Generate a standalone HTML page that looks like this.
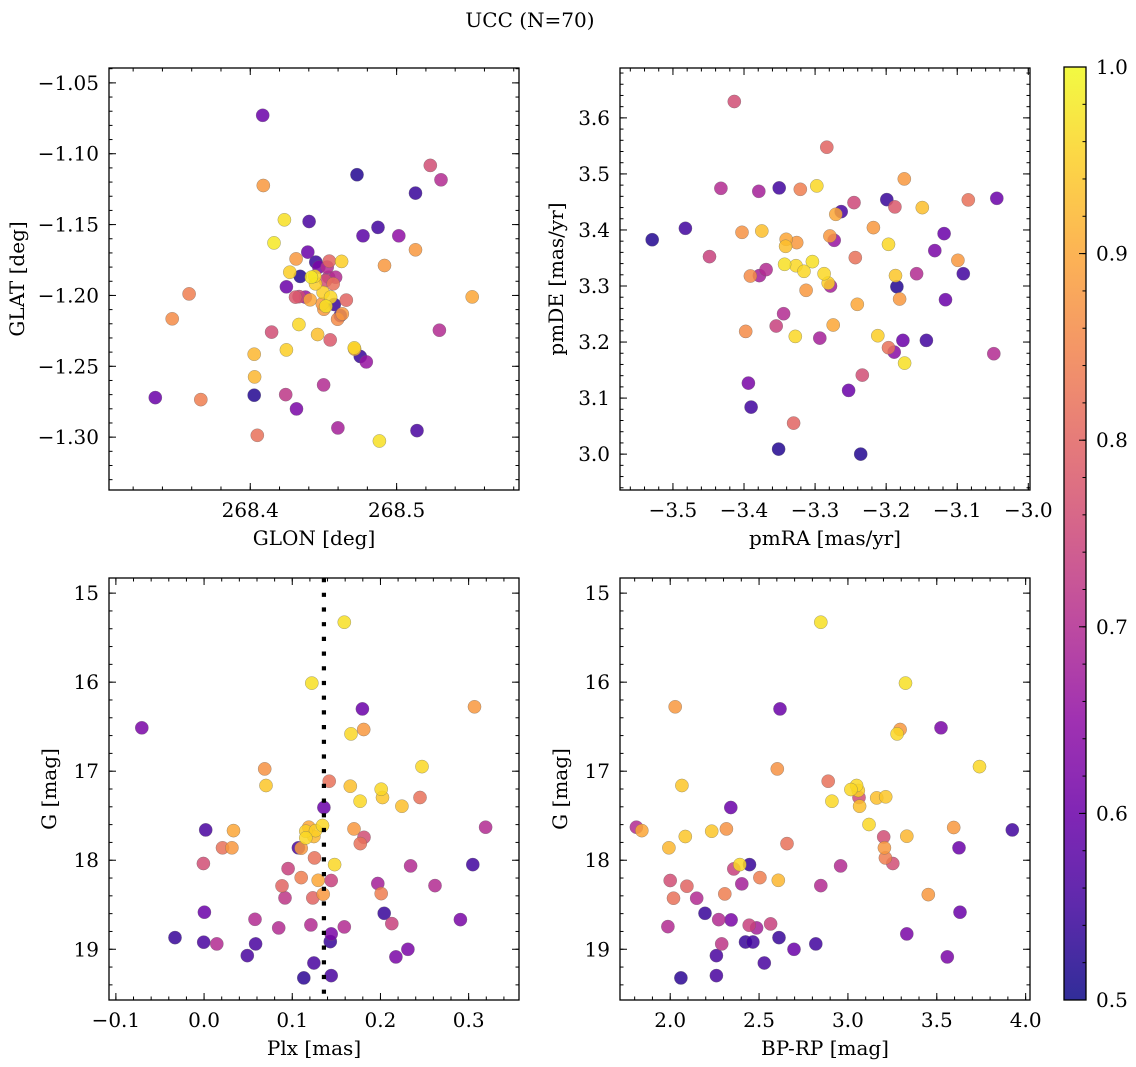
<!DOCTYPE html>
<html><head><meta charset="utf-8">
<style>
html,body{margin:0;padding:0;background:#fff;}
svg{display:block;font-family:"DejaVu Serif","Liberation Serif",serif;}
</style></head>
<body>
<svg id="fig" width="1136" height="1067" viewBox="0 0 1136 1067" xmlns="http://www.w3.org/2000/svg">
<text x="530" y="27" font-size="20" text-anchor="middle">UCC (N=70)</text>
</svg>
<script>
const p1Glon=[268.4085,268.4089,268.4729,268.5230,268.5303,268.5129,268.4233,268.4402,268.4873,268.4770,
268.5015,268.5129,268.4162,268.4393,268.4313,268.4448,268.4540,268.4624,268.4917,268.4270,
268.4341,268.4418,268.4441,268.4535,268.4567,268.4247,268.3582,268.4334,268.4377,268.4409,
268.4498,268.4549,268.4656,268.4574,268.4503,268.4517,268.5516,268.3467,268.4615,268.4597,
268.4332,268.4146,268.4460,268.4546,268.5292,268.4027,268.4247,268.4713,268.4752,268.4711,
268.4793,268.4030,268.4501,268.3351,268.3662,268.4027,268.4242,268.4316,268.4599,268.5139,
268.4048,268.4882,268.4526,268.4492,268.4446,268.4583,268.4309,268.4629,268.4514,268.4469];
const p1Glat=[-1.0729,-1.1224,-1.1148,-1.1082,-1.1184,-1.1278,-1.1466,-1.1478,-1.1520,-1.1579,
-1.1579,-1.1678,-1.1629,-1.1694,-1.1742,-1.1765,-1.1758,-1.1760,-1.1789,-1.1836,
-1.1866,-1.1871,-1.1864,-1.1871,-1.1918,-1.1939,-1.1989,-1.2008,-1.2012,-1.2031,
-1.1979,-1.2012,-1.2033,-1.2064,-1.2097,-1.2076,-1.2010,-1.2165,-1.2142,-1.2168,
-1.2205,-1.2259,-1.2276,-1.2314,-1.2245,-1.2415,-1.2384,-1.2379,-1.2431,-1.2370,
-1.2469,-1.2575,-1.2631,-1.2721,-1.2735,-1.2704,-1.2700,-1.2801,-1.2935,-1.2954,
-1.2987,-1.3027,-1.1800,-1.2059,-1.1918,-1.1871,-1.2012,-1.2130,-1.1895,-1.1800];
const p1Prob=[0.60,0.88,0.52,0.76,0.70,0.54,0.97,0.56,0.55,0.58,
0.65,0.88,0.98,0.60,0.88,0.54,0.80,0.95,0.88,0.95,
0.52,0.98,0.96,0.70,0.82,0.60,0.84,0.75,0.66,0.90,
0.95,0.96,0.80,0.54,0.88,0.97,0.90,0.86,0.55,0.86,
0.96,0.76,0.93,0.78,0.70,0.92,0.95,0.90,0.54,0.96,
0.66,0.92,0.70,0.60,0.84,0.52,0.72,0.62,0.68,0.56,
0.82,0.97,0.70,0.88,0.95,0.70,0.78,0.88,0.76,0.62];

const p2PmRA=[-3.4137,-3.2835,-3.1745,-3.4325,-3.3792,-3.3505,-3.3208,-3.2976,-3.0844,-3.0443,
-3.1991,-3.1877,-3.1491,-3.2453,-3.2632,-3.2708,-3.5292,-3.4825,-3.4028,-3.3750,
-3.3406,-3.3259,-3.3415,-3.2792,-3.2731,-3.2179,-3.1967,-3.1184,-3.1316,-3.0991,
-3.4486,-3.2434,-3.3429,-3.3269,-3.3038,-3.3156,-3.3689,-3.3783,-3.3910,-3.2873,
-3.2783,-3.2816,-3.3127,-3.1868,-3.1849,-3.1571,-3.0915,-3.1811,-3.2406,-3.1165,
-3.3443,-3.3547,-3.3976,-3.3278,-3.2934,-3.2745,-3.2118,-3.1967,-3.1887,-3.1764,
-3.1741,-3.1434,-3.0486,-3.3939,-3.2335,-3.2528,-3.3901,-3.3302,-3.3514,-3.2358];
const p2PmDE=[3.6292,3.5476,3.4911,3.4744,3.4690,3.4750,3.4726,3.4786,3.4536,3.4565,
3.4542,3.4411,3.4399,3.4488,3.4327,3.4280,3.3827,3.4030,3.3958,3.3982,
3.3833,3.3774,3.3708,3.3893,3.3815,3.4042,3.3744,3.3935,3.3631,3.3458,
3.3524,3.3506,3.3387,3.3363,3.3435,3.3262,3.3292,3.3185,3.3179,3.3220,
3.3000,3.3054,3.2923,3.3185,3.2988,3.3220,3.3220,3.2768,3.2673,3.2756,
3.2506,3.2286,3.2190,3.2101,3.2071,3.2304,3.2113,3.1899,3.1821,3.2030,
3.1625,3.2030,3.1792,3.1268,3.1411,3.1137,3.0839,3.0554,3.0089,3.0000];
const p2Prob=[0.76,0.80,0.88,0.70,0.68,0.55,0.84,0.96,0.82,0.60,
0.54,0.78,0.93,0.75,0.56,0.90,0.52,0.55,0.87,0.93,
0.90,0.88,0.93,0.88,0.66,0.88,0.96,0.60,0.62,0.88,
0.74,0.82,0.97,0.96,0.97,0.96,0.70,0.68,0.86,0.96,
0.68,0.95,0.88,0.94,0.52,0.70,0.55,0.88,0.90,0.60,
0.70,0.74,0.86,0.96,0.68,0.90,0.95,0.82,0.64,0.60,
0.97,0.55,0.70,0.62,0.76,0.60,0.55,0.80,0.52,0.52];

const p3Plx=[0.1590,0.1222,0.1795,0.3066,-0.0706,0.1666,0.1810,0.0687,0.0702,0.2471,
0.1419,0.1658,0.2008,0.2023,0.1769,0.2243,0.2448,0.3192,0.1359,0.0019,
0.0334,0.0209,0.0315,0.1343,0.1188,0.1154,0.1245,0.1154,0.1070,0.1101,
0.1700,0.1814,0.1772,0.1252,0.1480,-0.0008,0.0953,0.1101,0.0884,0.0918,
0.1233,0.1294,0.1442,0.1351,0.1970,0.2008,0.2342,0.2619,0.3047,0.0004,
0.0577,0.0846,0.1211,0.1590,0.2042,0.2129,0.2907,-0.0330,-0.0004,0.0144,
0.0584,0.0490,0.1442,0.1431,0.2311,0.2175,0.1245,0.1131,0.1442,0.1264];
const p3G=[15.326,16.011,16.300,16.277,16.513,16.581,16.532,16.974,17.161,16.948,
17.112,17.169,17.202,17.296,17.337,17.393,17.296,17.629,17.408,17.659,
17.667,17.861,17.861,17.610,17.629,17.674,17.734,17.749,17.861,17.865,
17.648,17.742,17.813,17.974,18.049,18.037,18.094,18.195,18.288,18.423,
18.423,18.225,18.228,18.382,18.262,18.375,18.064,18.285,18.049,18.584,
18.663,18.760,18.727,18.749,18.596,18.712,18.667,18.869,18.921,18.940,
18.940,19.071,18.828,18.914,19.000,19.086,19.154,19.322,19.296,17.667];
const p3Prob=[0.97,0.97,0.60,0.88,0.62,0.96,0.88,0.87,0.94,0.96,
0.82,0.93,0.96,0.94,0.96,0.93,0.82,0.70,0.60,0.56,
0.90,0.82,0.88,0.96,0.90,0.95,0.92,0.96,0.56,0.88,
0.88,0.76,0.82,0.82,0.96,0.76,0.74,0.84,0.80,0.72,
0.80,0.90,0.74,0.88,0.68,0.84,0.70,0.70,0.55,0.60,
0.70,0.70,0.70,0.70,0.54,0.74,0.62,0.54,0.56,0.70,
0.56,0.56,0.62,0.54,0.62,0.62,0.56,0.53,0.56,0.95];

const p4BpRp=[2.8475,3.3239,2.6177,2.0282,3.5235,3.2768,3.2938,2.6026,2.0659,3.7401,
2.8889,3.0490,3.0169,3.0621,3.0659,2.9096,3.1620,3.2128,2.3409,1.8098,
1.8399,2.0847,2.2335,2.3164,1.9925,3.1186,3.2015,3.2053,3.2109,3.2524,
3.3315,3.5951,3.9247,3.6252,2.6573,2.3917,2.4463,2.3578,2.9586,2.0000,
2.0942,2.4030,2.5047,2.6083,2.8475,2.3070,2.0188,2.1488,3.4520,2.1959,
2.2731,2.3427,2.4444,2.4859,2.5650,1.9868,3.6309,3.3315,2.2900,2.4237,
2.4652,2.6121,2.6968,2.8192,2.2599,3.5593,2.5292,2.0603,2.2599,3.0584];
const p4G=[15.326,16.011,16.300,16.277,16.513,16.581,16.532,16.974,17.161,16.948,
17.112,17.161,17.206,17.296,17.393,17.337,17.300,17.288,17.408,17.629,
17.667,17.734,17.674,17.648,17.861,17.599,17.738,17.861,17.974,18.037,
17.730,17.633,17.659,17.861,17.813,18.049,18.049,18.097,18.064,18.228,
18.292,18.266,18.195,18.225,18.285,18.378,18.427,18.427,18.386,18.596,
18.667,18.670,18.730,18.760,18.715,18.745,18.584,18.828,18.940,18.918,
18.918,18.869,19.000,18.940,19.071,19.086,19.154,19.322,19.296,17.217];
const p4Prob=[0.97,0.97,0.60,0.88,0.62,0.96,0.88,0.87,0.94,0.96,
0.82,0.96,0.96,0.76,0.93,0.96,0.93,0.94,0.60,0.70,
0.90,0.94,0.94,0.87,0.92,0.96,0.76,0.88,0.84,0.76,
0.92,0.88,0.55,0.60,0.82,0.96,0.54,0.74,0.70,0.76,
0.80,0.68,0.84,0.92,0.70,0.84,0.82,0.70,0.88,0.54,
0.70,0.62,0.74,0.68,0.74,0.70,0.60,0.62,0.72,0.54,
0.55,0.54,0.60,0.55,0.56,0.62,0.56,0.53,0.56,0.95];

const plxLine=[0.1359];
const cbarTicks=[0.5,0.6,0.7,0.8,0.9,1.0];

const NS="http://www.w3.org/2000/svg";
const svg=document.getElementById('fig');
function el(tag,attrs,parent){const e=document.createElementNS(NS,tag);for(const k in attrs)e.setAttribute(k,attrs[k]);(parent||svg).appendChild(e);return e;}

const PL=[[13,8,135],[65,4,157],[106,0,168],[143,13,164],[177,42,144],[204,71,120],[225,100,98],[242,132,75],[252,166,54],[252,206,37],[240,249,33]];
function plasma(t){t=Math.max(0,Math.min(1,t));const f=t*10;const i=Math.min(9,Math.floor(f));const u=f-i;const a=PL[i],b=PL[i+1];
return 'rgb('+[0,1,2].map(k=>Math.round(a[k]+(b[k]-a[k])*u)).join(',')+')';}
function probColor(p){return plasma((p-0.5)/0.5);}

function scale(d0,d1,r0,r1){return v=>r0+(v-d0)/(d1-d0)*(r1-r0);}
function fmt(v,dec){let s=Math.abs(v).toFixed(dec);return (v<-1e-9?'\u2212':'')+s;}
const FS=20;

function panel(cfg){
  const g=el('g',{});
  
  
  const sx=scale(cfg.xlim[0],cfg.xlim[1],cfg.box[0],cfg.box[2]);
  const sy=scale(cfg.ylim[0],cfg.ylim[1],cfg.box[3],cfg.box[1]);
  const [L,T,R,B]=cfg.box;
  const idx=cfg.p.map((_,i)=>i).sort((a,b)=>cfg.p[a]-cfg.p[b]);
  const pg=el('g',{},g);
  
  
  for(const i of idx){
    const c=el('circle',{cx:sx(cfg.x[i]).toFixed(1),cy:sy(cfg.y[i]).toFixed(1),r:6.6,fill:probColor(cfg.p[i]),'fill-opacity':0.85,stroke:'#666','stroke-width':0.5,'stroke-opacity':0.6},pg);
    
    
  }
  if(cfg.vline){for(const v of cfg.vline){const ln=el('line',{x1:sx(v),x2:sx(v),y1:T,y2:B,stroke:'#000','stroke-width':4.2,'stroke-dasharray':'4.2 10.5'},g);
    
    }}
  const tg=el('g',{stroke:'#000','stroke-width':1},g);
  function ticksX(step,len,labels,dec){const s0=Math.ceil((cfg.xlim[0]-1e-9)/step);const s1=Math.floor((cfg.xlim[1]+1e-9)/step);
    for(let k=s0;k<=s1;k++){const v=k*step;const x=sx(v);if(x<L+0.5||x>R-0.5)continue;
      el('line',{x1:x,x2:x,y1:B,y2:B-len},tg);el('line',{x1:x,x2:x,y1:T,y2:T+len},tg);
      if(labels){const t=el('text',{x:x,y:B+27,'font-size':FS,'text-anchor':'middle',stroke:'none',fill:'#000'},g);t.textContent=fmt(v,dec);
        
        }}}
  function ticksY(step,len,labels,dec){const s0=Math.ceil((Math.min(...cfg.ylim)-1e-9)/step);const s1=Math.floor((Math.max(...cfg.ylim)+1e-9)/step);
    for(let k=s0;k<=s1;k++){const v=k*step;const y=sy(v);if(y<T+0.5||y>B-0.5)continue;
      el('line',{x1:L,x2:L+len,y1:y,y2:y},tg);el('line',{x1:R,x2:R-len,y1:y,y2:y},tg);
      if(labels){const t=el('text',{x:L-10,y:y+7,'font-size':FS,'text-anchor':'end',stroke:'none',fill:'#000'},g);t.textContent=fmt(v,dec);
        
        }}}
  ticksX(cfg.xmin,3.5,false);ticksX(cfg.xmaj,7,true,cfg.xdec);
  ticksY(cfg.ymin,3.5,false);ticksY(cfg.ymaj,7,true,cfg.ydec);
  const fr=el('rect',{x:L,y:T,width:R-L,height:B-T,fill:'none',stroke:'#000','stroke-width':1.3},g);
  
  
  const xl=el('text',{x:(L+R)/2,y:B+55,'font-size':FS,'text-anchor':'middle'},g);xl.textContent=cfg.xlabel;
  
  
  const yl=el('text',{x:0,y:0,'font-size':FS,'text-anchor':'middle',transform:'translate('+cfg.ylx+','+((T+B)/2)+') rotate(-90)'},g);yl.textContent=cfg.ylabel;
  
  
}

panel({name:'glon-glat-panel',box:[109,68,519,490],xlim:[268.3035,268.5836],ylim:[-1.3373,-1.0395],x:p1Glon,y:p1Glat,p:p1Prob,
  xmaj:0.1,xmin:0.02,ymaj:0.05,ymin:0.01,xdec:1,ydec:2,xlabel:'GLON [deg]',ylabel:'GLAT [deg]',ylx:24});
panel({name:'proper-motion-panel',box:[620,68,1030,490],xlim:[-3.5745,-2.9976],ylim:[2.936,3.689],x:p2PmRA,y:p2PmDE,p:p2Prob,
  xmaj:0.1,xmin:0.02,ymaj:0.1,ymin:0.02,xdec:1,ydec:1,xlabel:'pmRA [mas/yr]',ylabel:'pmDE [mas/yr]',ylx:563});
panel({name:'plx-g-panel',box:[109,578,519,1000],xlim:[-0.1078,0.3571],ylim:[19.57,14.83],x:p3Plx,y:p3G,p:p3Prob,vline:plxLine,
  xmaj:0.1,xmin:0.02,ymaj:1,ymin:0.2,xdec:1,ydec:0,xlabel:'Plx [mas]',ylabel:'G [mag]',ylx:56});
panel({name:'color-magnitude-panel',box:[620,578,1030,1000],xlim:[1.7175,4.0245],ylim:[19.57,14.83],x:p4BpRp,y:p4G,p:p4Prob,
  xmaj:0.5,xmin:0.1,ymaj:1,ymin:0.2,xdec:1,ydec:0,xlabel:'BP-RP [mag]',ylabel:'G [mag]',ylx:567});

(function(){
  const L=1064,R=1086,T=67,B=1000;
  const g=el('g',{});
  
  
  const defs=el('defs',{},g);
  const lg=el('linearGradient',{id:'cb',x1:0,y1:1,x2:0,y2:0},defs);
  for(let i=0;i<=20;i++){el('stop',{offset:(i/20),'stop-color':plasma(i/20),'stop-opacity':0.85},lg);}
  el('rect',{x:L,y:T,width:R-L,height:B-T,fill:'url(#cb)',stroke:'#000','stroke-width':1.3},g);
  const cs=scale(0.5,1.0,B,T);
  for(let v=0.5;v<=1.0001;v+=0.02){const y=cs(v);el('line',{x1:R,x2:R-3.5,y1:y,y2:y,stroke:'#000','stroke-width':1},g);}
  for(const v of cbarTicks){const y=cs(v);el('line',{x1:R,x2:R-7,y1:y,y2:y,stroke:'#000','stroke-width':1},g);
    const t=el('text',{x:R+10,y:y+7,'font-size':FS},g);t.textContent=v.toFixed(1);
    
    }
})();
</script>
</body></html>
